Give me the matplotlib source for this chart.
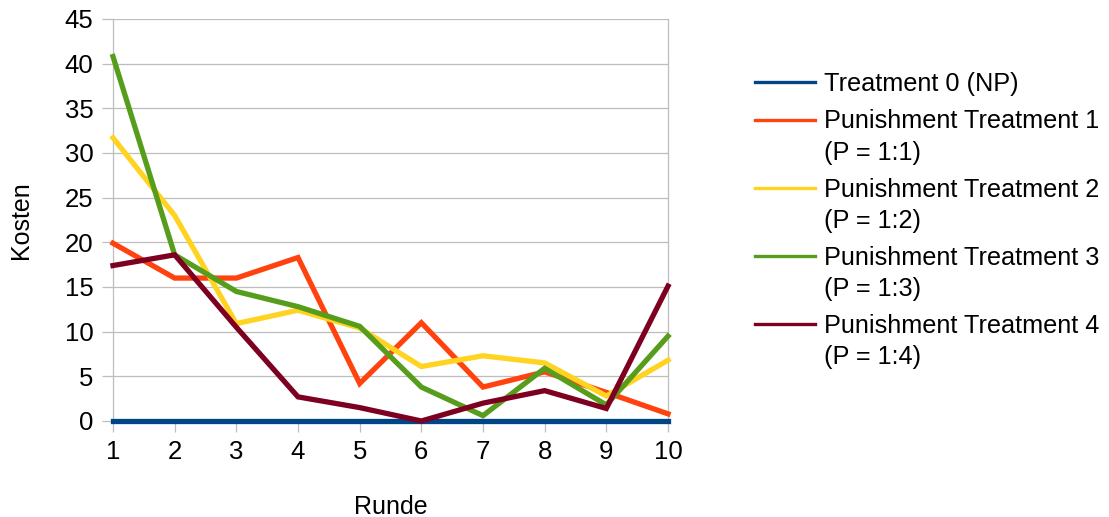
import matplotlib
matplotlib.use("Agg")
import matplotlib.pyplot as plt
from matplotlib.lines import Line2D

plt.rcParams["font.family"] = ["Liberation Sans", "DejaVu Sans"]

rounds = [1, 2, 3, 4, 5, 6, 7, 8, 9, 10]
t0_np = [0, 0, 0, 0, 0, 0, 0, 0, 0, 0]
pt1 = [19.9, 16.0, 16.0, 18.3, 4.2, 11.0, 3.8, 5.5, 3.2, 0.8]
pt2 = [31.7, 23.0, 10.9, 12.4, 10.4, 6.1, 7.3, 6.5, 2.8, 6.8]
pt3 = [40.8, 18.6, 14.5, 12.8, 10.6, 3.8, 0.6, 5.9, 1.8, 9.5]
pt4 = [17.4, 18.6, 10.5, 2.7, 1.5, 0.0, 2.0, 3.4, 1.4, 15.1]

series_labels = [
    "Treatment 0 (NP)",
    "Punishment Treatment 1\n(P = 1:1)",
    "Punishment Treatment 2\n(P = 1:2)",
    "Punishment Treatment 3\n(P = 1:3)",
    "Punishment Treatment 4\n(P = 1:4)",
]
series_values = [t0_np, pt1, pt2, pt3, pt4]
colors = ["#004586", "#ff420e", "#ffd320", "#579d1c", "#7e0021"]

y_ticks = [0, 5, 10, 15, 20, 25, 30, 35, 40, 45]

W, H = 1109, 517
fig = plt.figure(figsize=(W / 100, H / 100), dpi=100)
ax = fig.add_axes([113 / W, 1 - 421 / H, (668 - 113) / W, (421 - 19) / H])

grid_c = "#bdbdbd"
for yt in y_ticks[1:]:
    ax.axhline(yt, color=grid_c, lw=0.9, zorder=0)

for i, (vals, col) in enumerate(zip(series_values, colors)):
    ax.plot(rounds, vals, color=col, lw=3.8,
            solid_joinstyle="miter", clip_on=False, zorder=3 + i)

ax.set_xlim(1, 10)
ax.set_ylim(0, 45)
ax.set_xticks(rounds)
ax.set_yticks(y_ticks)
ax.tick_params(axis="both", direction="out", length=8, width=0.9,
               color=grid_c, labelsize=18.5, pad=6)
ax.spines["top"].set_visible(False)
for side in ["left", "right", "bottom"]:
    ax.spines[side].set_color(grid_c)
    ax.spines[side].set_linewidth(0.9)

ax.set_xlabel("Runde", fontsize=18, labelpad=22)
ax.set_ylabel("Kosten", fontsize=18, labelpad=23)

# legend drawn in figure pixel coordinates
def fx(x):
    return x / W

def fy(y):
    return 1 - y / H

handle_y = [81.7, 119.5, 187.7, 256.0, 324.3]
for lab, col, hy in zip(series_labels, colors, handle_y):
    fig.add_artist(Line2D([fx(755), fx(815)], [fy(hy), fy(hy)],
                          color=col, lw=2.4, transform=fig.transFigure))
    for j, line in enumerate(lab.split("\n")):
        fig.text(fx(824), fy(hy + 9 + 31 * j), line, fontsize=18.2,
                 ha="left", va="baseline")

fig.savefig("out.png", dpi=100)
